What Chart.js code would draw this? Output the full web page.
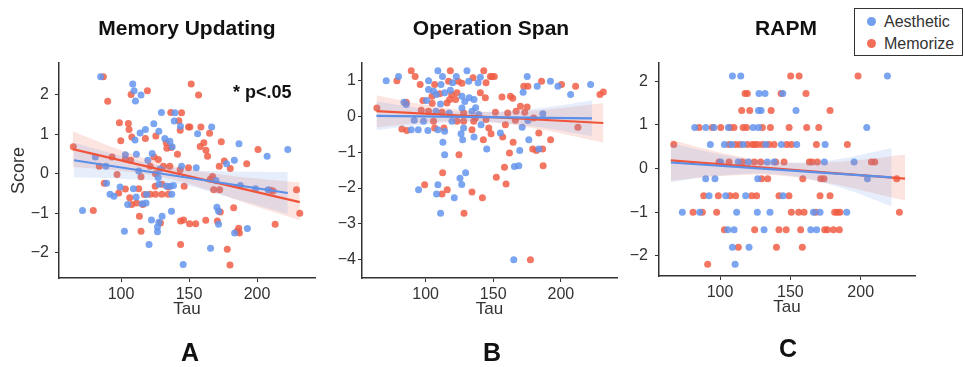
<!DOCTYPE html>
<html>
<head>
<meta charset="utf-8">
<script src="https://cdn.jsdelivr.net/npm/chart.js@4.4.1/dist/chart.umd.min.js"></script>
<style>
  body { margin: 0; background: #fff; width: 965px; height: 367px; position: relative; overflow: hidden;
         font-family: 'Liberation Sans', Arial, sans-serif; }
  canvas { position: absolute; top: 0; }
  .ttl { position: absolute; top: 16px; font-size: 21px; font-weight: bold; color: #111;
         transform: translateX(-50%); white-space: nowrap; line-height: 24px; }
  .lbl { position: absolute; font-family: 'Liberation Sans Narrow', 'Liberation Sans', sans-serif;
         font-weight: bold; font-size: 25px; color: #111; transform: translateX(-50%); line-height: 28px; }
  #sig { position: absolute; left: 233px; top: 82px; font-size: 18px; font-weight: bold; color: #111; white-space: nowrap; }
  #legend { position: absolute; left: 854px; top: 8px; width: 107px; height: 46px; border: 1.5px solid #333; background: #fff; }
  #legend .dot { position: absolute; left: 12px; width: 9px; height: 9px; border-radius: 50%; }
  #legend .txt { position: absolute; left: 29px; font-size: 16px; color: #333; line-height: 18px; }
</style>
</head>
<body>
<canvas id="chartA" width="325" height="367" style="left:0px"></canvas>
<canvas id="chartB" width="305" height="367" style="left:320px"></canvas>
<canvas id="chartC" width="340" height="367" style="left:625px"></canvas>

<div class="ttl" style="left:187px">Memory Updating</div>
<div class="ttl" style="left:491px">Operation Span</div>
<div class="ttl" style="left:786px">RAPM</div>
<div id="sig">* p&lt;.05</div>
<div class="lbl" style="left:190px; top:338px">A</div>
<div class="lbl" style="left:492px; top:338px">B</div>
<div class="lbl" style="left:788px; top:334px">C</div>
<div id="legend">
  <div class="dot" style="top:8px; background:rgba(100,149,237,0.9)"></div><div class="txt" style="top:4px">Aesthetic</div>
  <div class="dot" style="top:30px; background:rgba(240,94,70,0.9)"></div><div class="txt" style="top:26px">Memorize</div>
</div>

<script>
var xTicks = [100, 150, 200];
var muTicksY = [-2, -1, 0, 1, 2];
var osTicksY = [-4, -3, -2, -1, 0, 1];
var rapmTicksY = [-2, -1, 0, 1, 2];

// Memory Updating: [tau, score]
var muAesthetic = [[85.0,2.45],[108.6,2.27],[109.6,2.10],[114.7,1.99],[110.6,1.84],[129.7,1.55],[139.6,1.54],[139.1,1.33],
  [143.7,1.20],[124.1,1.26],[110.3,0.85],[114.0,1.03],[117.9,1.12],[127.8,1.07],[132.2,0.89],[135.9,0.82],[137.6,0.68],
  [81.1,0.42],[88.9,0.19],[103.2,0.48],[111.3,0.49],[113.0,0.07],[119.7,0.34],[122.9,0.51],[128.7,0.12],[144.5,0.19],
  [127.3,-0.10],[89.4,-0.24],[91.9,-0.52],[94.8,-0.57],[99.3,-0.34],[109.1,-0.38],[111.1,-0.59],[104.9,-0.78],[115.5,-0.76],
  [118.4,-0.74],[118.9,-0.53],[137.3,-0.52],[127.8,-0.27],[133.2,-0.31],[136.1,-0.32],[138.6,-0.30],[71.7,-0.93],[122.4,-1.17],
  [130.2,-1.08],[127.8,-1.23],[126.8,-1.35],[126.8,-1.47],[102.5,-1.46],[137.1,-0.95],[120.6,-1.79],[145.7,-2.30],[156.3,1.01],
  [166.6,1.18],[186.7,0.76],[207.4,0.44],[222.6,0.61],[183.3,0.34],[177.6,0.25],[155.3,0.15],[187.7,-0.30],[198.8,-0.38],
  [208.1,-0.41],[170.5,-0.85],[171.7,-0.95],[171.7,-1.28],[183.5,-1.50],[192.9,-1.39],[165.8,-1.89],[169.8,-0.17]];
var muMemorize = [[87.0,2.45],[90.2,1.83],[107.4,2.00],[119.4,2.10],[136.6,1.55],[144.5,1.54],[142.5,1.34],[143.5,1.10],
  [149.6,1.18],[98.8,1.29],[105.4,1.27],[105.9,1.12],[107.9,0.93],[117.9,0.89],[125.6,0.95],[133.2,0.78],[133.7,0.64],
  [136.9,0.66],[141.5,0.49],[99.8,0.83],[64.9,0.68],[84.0,0.19],[93.4,0.42],[103.2,0.37],[107.1,0.34],[114.7,-0.08],
  [121.4,0.19],[124.3,0.42],[127.5,0.36],[131.2,0.19],[135.9,0.19],[143.5,0.10],[149.6,0.15],[125.3,0.00],[87.7,-0.24],
  [97.1,-0.02],[98.3,-0.49],[103.2,-0.39],[113.0,-0.38],[106.4,-0.61],[107.9,-0.78],[111.5,-0.74],[116.0,-0.78],[117.2,-0.53],
  [121.4,-0.52],[125.3,-0.52],[130.0,-0.52],[134.6,-0.52],[125.1,-0.32],[130.0,-0.27],[134.9,-0.34],[146.4,-0.32],[79.6,-0.93],
  [113.5,-1.08],[129.0,-1.25],[114.7,-1.46],[143.8,-1.20],[146.0,-1.17],[150.4,-1.27],[143.8,-1.79],[151.6,2.27],[157.0,1.99],
  [150.6,1.18],[158.7,1.18],[165.1,1.02],[158.2,0.69],[160.9,0.78],[162.4,0.59],[163.6,0.44],[173.7,0.81],[200.7,0.61],
  [192.4,0.25],[175.9,0.32],[180.3,0.13],[172.2,0.19],[165.6,-0.14],[167.3,-0.07],[168.1,-0.41],[172.5,-0.41],[209.8,-0.42],
  [211.8,-0.44],[229.0,-0.41],[231.4,-1.00],[173.0,-0.97],[182.8,-0.86],[170.8,-1.20],[154.9,-1.27],[162.3,-1.18],[213.3,-1.28],
  [186.5,-1.38],[185.3,-1.46],[187.0,-1.50],[178.1,-1.91],[180.1,-2.31]];
var muAesFit = [[65.4,0.34],[222.6,-0.49]];
var muMemFit = [[64.5,0.62],[231.4,-0.72]];
// [tau, lower, upper]
var muAesBand = [[65.4,-0.10,0.78],[100,-0.13,0.45],[140,-0.24,0.14],[180,-0.60,0.06],[222.6,-1.02,0.04]];
var muMemBand = [[64.5,0.17,1.07],[100,0.07,0.59],[135,-0.12,0.22],[170,-0.48,0.00],[200,-0.84,-0.12],[231.4,-1.18,-0.22]];

// Operation Span
var osAesthetic = [[70.9,1.00],[80.0,1.12],[109.1,1.28],[130.6,1.28],[122.7,1.12],[102.2,1.00],[111.4,0.90],[138.8,0.95],
  [131.9,0.99],[102.2,0.76],[105.9,0.71],[114.1,0.67],[118.3,0.74],[132.3,0.53],[135.8,0.48],[126.9,0.57],[100.7,0.45],
  [84.0,0.40],[85.7,0.34],[107.7,0.15],[91.6,-0.10],[98.5,-0.13],[117.5,0.10],[126.9,0.24],[134.3,0.15],[139.3,0.06],
  [119.5,-0.13],[141.0,-0.23],[89.4,-0.37],[94.6,-0.37],[101.7,-0.39],[109.1,-0.37],[114.1,-0.41],[128.1,-0.32],[126.2,-0.48],
  [127.4,-0.65],[135.8,-0.57],[112.8,-0.72],[114.1,-1.07],[145.2,-0.91],[129.6,-1.57],[125.4,-1.73],[126.7,-1.90],[94.8,-2.05],
  [109.1,-1.91],[108.1,-2.17],[121.2,-2.27],[111.1,-2.71],[165.2,-4.01],[175.1,1.12],[172.1,0.68],[182.5,0.85],[192.3,0.99],
  [197.8,0.85],[207.2,0.62],[222.0,0.90],[186.7,0.08],[175.6,-0.11],[171.4,-0.30],[155.3,-0.46],[176.3,-0.65],[169.6,-0.95],
  [183.7,-0.91],[165.7,-1.40],[168.9,-1.38],[112.5,1.12],[140.5,1.10],[120.0,0.95],[108.0,0.62],[129.0,0.42],[111.0,0.35],[137.0,0.25]];
var osMemorize = [[89.4,1.28],[118.3,1.28],[143.0,1.28],[92.3,1.12],[78.8,1.00],[96.0,0.90],[106.7,0.90],[117.0,0.99],
  [124.0,0.99],[126.9,0.93],[135.1,1.09],[144.7,0.95],[147.9,1.12],[110.4,0.64],[119.3,0.62],[123.2,0.67],[140.5,0.67],
  [144.2,0.53],[117.8,0.48],[115.8,0.38],[122.2,0.48],[104.7,0.57],[98.0,0.45],[104.9,0.37],[85.7,0.40],[64.0,0.24],
  [96.8,0.18],[102.2,0.15],[112.1,0.12],[128.1,0.10],[105.9,-0.13],[123.2,-0.13],[128.1,-0.13],[136.8,-0.04],[135.6,-0.13],
  [144.7,-0.08],[82.5,-0.35],[86.2,-0.39],[106.7,-0.32],[113.6,-0.32],[134.3,-0.37],[142.7,-0.65],[124.7,-1.07],[112.6,-1.57],
  [99.3,-1.91],[112.1,-2.17],[116.0,-2.05],[134.3,-2.11],[142.0,-2.27],[128.4,-2.71],[149.1,1.12],[150.8,1.12],[172.6,0.85],
  [175.6,0.85],[185.7,0.99],[200.5,0.90],[210.9,0.85],[228.9,0.62],[231.4,0.69],[156.5,0.55],[162.7,0.57],[164.4,0.51],
  [170.1,0.29],[175.1,0.27],[151.6,0.12],[160.7,0.10],[166.9,0.15],[173.3,0.12],[179.9,-0.04],[166.4,-0.10],[159.0,-0.23],
  [146.7,-0.32],[148.4,-0.48],[157.0,-0.57],[183.7,-0.46],[212.6,-0.30],[164.7,-0.72],[192.4,-0.65],[162.0,-1.02],[179.2,-0.91],
  [181.9,-0.95],[186.5,-0.91],[158.3,-1.42],[186.9,-1.38],[152.3,-1.70],[159.5,-1.89],[177.5,-4.01]];
var osAesFit = [[63.7,0.02],[223.0,-0.05]];
var osMemFit = [[63.7,0.15],[231.4,-0.18]];
var osAesBand = [[63.7,-0.38,0.42],[100,-0.22,0.22],[140,-0.15,0.13],[180,-0.28,0.22],[223.0,-0.55,0.45]];
var osMemBand = [[63.7,-0.30,0.60],[100,-0.17,0.33],[140,-0.14,0.14],[180,-0.33,0.17],[231.4,-0.73,0.37]];

// RAPM
var rapmAesthetic = [[108.8,2.12],[114.7,2.12],[219.0,2.12],[127.7,1.72],[132.0,1.72],[144.6,1.72],[127.3,1.33],[129.2,1.33],
  [154.0,1.33],[82.0,0.94],[89.8,0.94],[95.7,0.94],[105.9,0.94],[123.5,0.94],[127.3,0.94],[204.3,0.94],[93.1,0.55],[103.1,0.55],
  [108.3,0.55],[116.4,0.55],[132.5,0.55],[143.6,0.55],[154.5,0.55],[174.7,0.55],[100.5,0.15],[113.0,0.15],[120.1,0.15],
  [133.6,0.15],[138.4,0.15],[174.2,0.15],[195.3,0.15],[89.8,-0.23],[96.4,-0.23],[126.8,-0.23],[204.8,-0.23],[92.2,-0.62],
  [104.0,-0.62],[118.2,-0.62],[144.8,-0.62],[73.2,-1.00],[85.5,-1.00],[111.8,-1.00],[126.5,-1.00],[135.5,-1.00],[166.4,-1.00],
  [171.1,-1.00],[190.1,-1.00],[105.5,-1.40],[110.0,-1.40],[131.3,-1.40],[164.5,-1.40],[168.7,-1.40],[108.8,-1.80],[120.6,-1.80],
  [110.7,-2.19]];
var rapmMemorize = [[150.2,2.12],[156.2,2.12],[198.1,2.12],[117.8,1.72],[119.4,1.72],[143.4,1.72],[161.1,1.72],[115.4,1.33],
  [121.1,1.33],[136.3,1.33],[178.2,1.33],[85.1,0.94],[94.5,0.94],[100.5,0.94],[107.1,0.94],[109.9,0.94],[116.4,0.94],
  [118.8,0.94],[130.1,0.94],[135.8,0.94],[149.1,0.94],[161.6,0.94],[170.2,0.94],[67.1,0.55],[106.4,0.55],[111.1,0.55],
  [114.2,0.55],[119.4,0.55],[122.9,0.55],[124.6,0.55],[126.8,0.55],[130.1,0.55],[134.8,0.55],[138.4,0.55],[147.3,0.55],
  [150.7,0.55],[168.5,0.55],[190.5,0.55],[99.3,0.15],[106.4,0.15],[115.9,0.15],[124.4,0.15],[128.9,0.15],[139.6,0.15],
  [145.5,0.15],[163.5,0.15],[165.4,0.15],[169.2,0.15],[207.6,0.15],[210.0,0.15],[129.6,-0.23],[133.9,-0.23],[158.8,-0.23],
  [171.6,-0.23],[173.9,-0.23],[225.6,-0.23],[88.4,-0.62],[98.8,-0.62],[107.1,-0.62],[111.1,-0.62],[122.5,-0.62],[126.0,-0.62],
  [141.9,-0.62],[149.0,-0.62],[171.1,-0.62],[178.2,-0.62],[80.8,-1.00],[87.4,-1.00],[97.6,-1.00],[150.7,-1.00],[155.9,-1.00],
  [159.7,-1.00],[168.0,-1.00],[181.5,-1.00],[183.4,-1.00],[185.3,-1.00],[227.5,-1.00],[103.1,-1.40],[124.6,-1.40],[141.9,-1.40],
  [147.0,-1.40],[157.3,-1.40],[174.4,-1.40],[176.3,-1.40],[180.6,-1.40],[184.8,-1.40],[113.0,-1.80],[140.1,-1.80],[158.5,-1.80],
  [91.2,-2.19]];
var rapmAesFit = [[65.0,0.14],[222.0,-0.20]];
var rapmMemFit = [[65.0,0.19],[231.5,-0.23]];
var rapmAesBand = [[65.0,-0.31,0.59],[100,-0.16,0.33],[140,-0.13,0.15],[180,-0.38,0.20],[222.0,-0.86,0.47]];
var rapmMemBand = [[65.0,-0.28,0.66],[100,-0.17,0.37],[140,-0.15,0.15],[180,-0.35,0.15],[231.5,-0.73,0.32]];

var BLUE_PT = 'rgba(100,149,237,0.85)';
var RED_PT = 'rgba(240,94,70,0.85)';
var BLUE_LINE = '#5b8fe8';
var RED_LINE = '#f0553c';
var BLUE_BAND = 'rgba(100,149,237,0.16)';
var RED_BAND = 'rgba(240,94,70,0.17)';

function pts(arr) { return arr.map(function(p) { return {x: p[0], y: p[1]}; }); }
function bandEdge(arr, i) { return arr.map(function(b) { return {x: b[0], y: b[i]}; }); }
function minus(v) { return v < 0 ? '\u2212' + Math.abs(v) : String(v); }

function panel(id, o) {
  var datasets = [
    {type: 'scatter', label: 'Aesthetic', data: pts(o.aes), backgroundColor: BLUE_PT, pointRadius: 3.5, borderWidth: 0, order: 3},
    {type: 'scatter', label: 'Memorize', data: pts(o.mem), backgroundColor: RED_PT, pointRadius: 3.5, borderWidth: 0, order: 3},
    {type: 'line', data: bandEdge(o.aesBand, 2), fill: '+1', backgroundColor: BLUE_BAND, borderWidth: 0, pointRadius: 0, tension: 0.4, order: 2},
    {type: 'line', data: bandEdge(o.aesBand, 1), fill: false, borderWidth: 0, pointRadius: 0, tension: 0.4, order: 2},
    {type: 'line', data: bandEdge(o.memBand, 2), fill: '+1', backgroundColor: RED_BAND, borderWidth: 0, pointRadius: 0, tension: 0.4, order: 2},
    {type: 'line', data: bandEdge(o.memBand, 1), fill: false, borderWidth: 0, pointRadius: 0, tension: 0.4, order: 2},
    {type: 'line', data: pts(o.aesFit), borderColor: BLUE_LINE, borderWidth: 2.2, pointRadius: 0, fill: false, order: 1},
    {type: 'line', data: pts(o.memFit), borderColor: RED_LINE, borderWidth: 2.2, pointRadius: 0, fill: false, order: 1}
  ];
  var ctx = document.getElementById(id).getContext('2d');
  return new Chart(ctx, {
    type: 'scatter',
    data: {datasets: datasets},
    options: {
      responsive: false,
      animation: false,
      devicePixelRatio: 1,
      layout: {padding: {left: 0, right: o.padRight, top: 63, bottom: o.padBottom}},
      plugins: {legend: {display: false}, tooltip: {enabled: false}},
      scales: {
        x: {
          type: 'linear', min: o.xMin, max: o.xMax,
          afterBuildTicks: function(s) { s.ticks = xTicks.map(function(v) { return {value: v}; }); },
          afterFit: function(s) { s.height = 43; },
          grid: {drawOnChartArea: false, drawTicks: true, tickLength: 4, color: '#333'},
          border: {color: '#333', width: 1.5},
          ticks: {font: {size: 16}, color: '#333', padding: 3, maxRotation: 0},
          title: {display: true, text: 'Tau', font: {size: 17}, color: '#333', padding: {top: 0, bottom: 1}}
        },
        y: {
          type: 'linear', min: o.yMin, max: o.yMax,
          afterBuildTicks: function(s) { s.ticks = o.yTicks.map(function(v) { return {value: v}; }); },
          afterFit: function(s) { s.width = o.yWidth; },
          grid: {drawOnChartArea: false, drawTicks: true, tickLength: 4, color: '#333'},
          border: {color: '#333', width: 1.5},
          ticks: {font: {size: 16}, color: '#333', padding: o.yPad, callback: minus},
          title: {display: !!o.yTitle, text: o.yTitle || '', font: {size: 18}, color: '#333', padding: {top: 8, bottom: 0}}
        }
      }
    }
  });
}

Chart.defaults.font.family = "'Liberation Sans', Arial, sans-serif";

panel('chartA', {aes: muAesthetic, mem: muMemorize, aesFit: muAesFit, memFit: muMemFit, aesBand: muAesBand, memBand: muMemBand,
  xMin: 54.4, xMax: 242.6, yMin: -2.64, yMax: 2.8, yTicks: muTicksY, yWidth: 59, yPad: 6, padRight: 10, padBottom: 46, yTitle: 'Score'});
panel('chartB', {aes: osAesthetic, mem: osMemorize, aesFit: osAesFit, memFit: osMemFit, aesBand: osAesBand, memBand: osMemBand,
  xMin: 53, xMax: 241.5, yMin: -4.52, yMax: 1.5, yTicks: osTicksY, yWidth: 42, yPad: 2, padRight: 8, padBottom: 46});
panel('chartC', {aes: rapmAesthetic, mem: rapmMemorize, aesFit: rapmAesFit, memFit: rapmMemFit, aesBand: rapmAesBand, memBand: rapmMemBand,
  xMin: 56.6, xMax: 238.6, yMin: -2.46, yMax: 2.42, yTicks: rapmTicksY, yWidth: 34, yPad: 7, padRight: 50, padBottom: 48});
</script>
</body>
</html>
